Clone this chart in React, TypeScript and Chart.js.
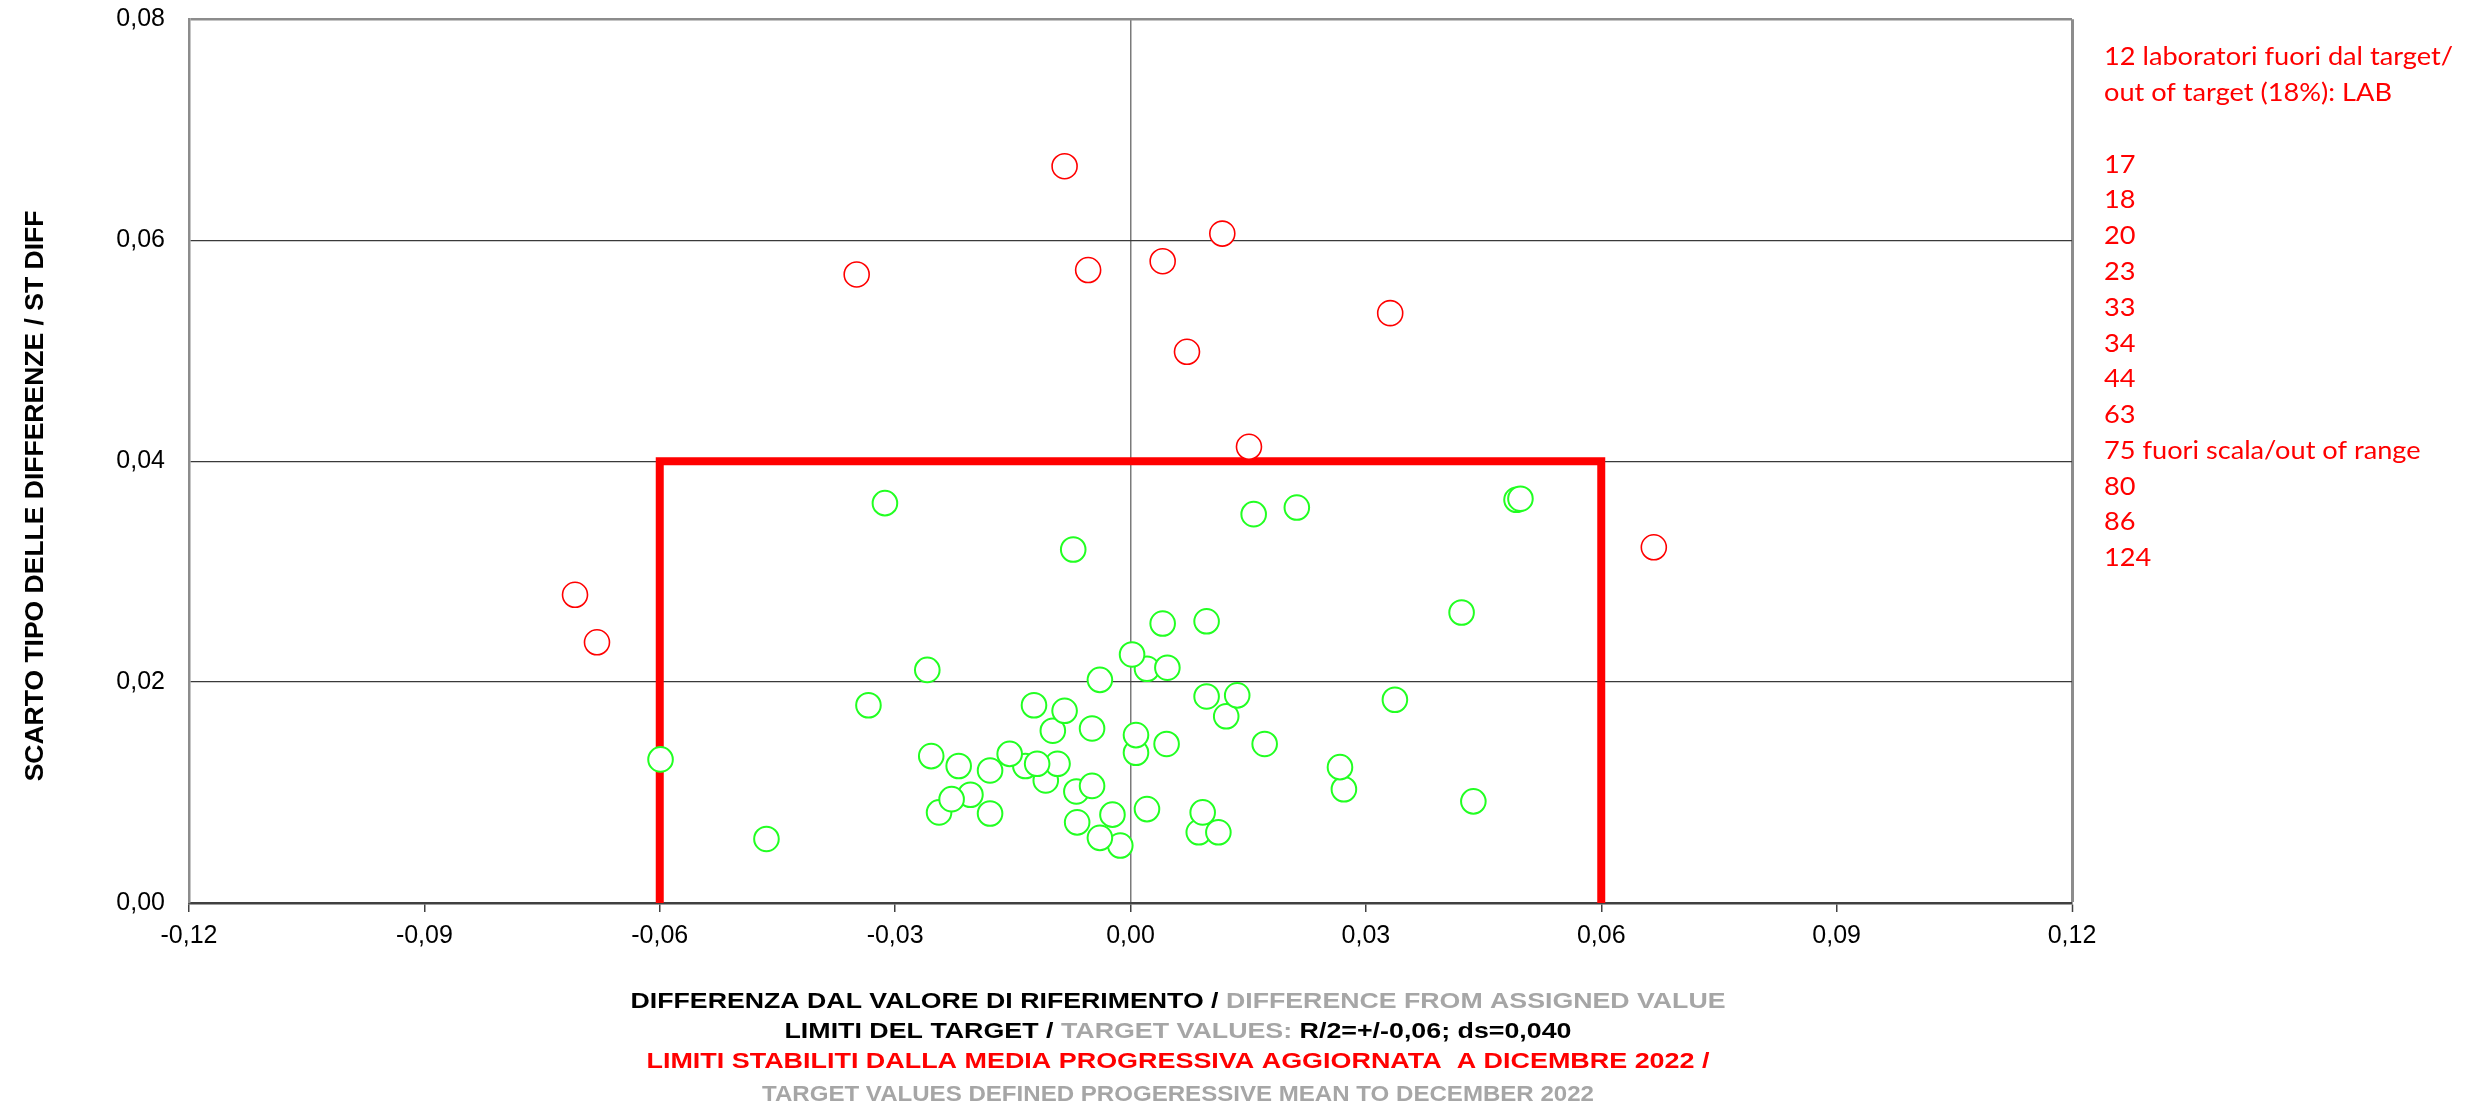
import React, { useEffect, useRef } from 'react';
import { Chart, registerables } from 'chart.js';

Chart.register(...registerables);

// ---------- data ----------
const greenX = [
  -0.0313, -0.0073, 0.0157, 0.0212, 0.0492, 0.0497, 0.0422, 0.0041, 0.0097, 0.0021,
  0.0047, 0.0002, -0.0259, -0.0039, 0.0122, 0.0097, 0.0136, 0.0337, -0.0334, -0.0599,
  -0.0464, -0.0099, -0.0123, -0.0084, -0.0049, 0.0007, 0.0007, 0.0046, 0.0171, 0.0272,
  0.0267, -0.0254, -0.0219, -0.0179, -0.0134, -0.0154, -0.0108, -0.0093, -0.0119, -0.0069,
  -0.0049, -0.0244, -0.0204, -0.0228, -0.0179, -0.0068, -0.0023, 0.0021, -0.0013, -0.0039,
  0.0087, 0.0112, 0.0092, 0.0437,
];
const greenY = [
  0.0362, 0.0320, 0.0352, 0.0358, 0.0365, 0.0366, 0.0263, 0.0253, 0.0255, 0.0212,
  0.0213, 0.0225, 0.0211, 0.0202, 0.0169, 0.0187, 0.0188, 0.0184, 0.0179, 0.0130,
  0.0058, 0.0156, 0.0179, 0.0174, 0.0158, 0.0136, 0.0152, 0.0144, 0.0144, 0.0103,
  0.0123, 0.0133, 0.0124, 0.0120, 0.0124, 0.0135, 0.0111, 0.0126, 0.0126, 0.0101,
  0.0106, 0.0082, 0.0098, 0.0094, 0.0081, 0.0073, 0.0080, 0.0085, 0.0052, 0.0059,
  0.0064, 0.0064, 0.0082, 0.0092,
];
const redX = [-0.0084, 0.0117, -0.0349, -0.0054, 0.0041, 0.0331, 0.0072, 0.0151, 0.0667, -0.0708, -0.0680];
const redY = [0.0667, 0.0606, 0.0569, 0.0573, 0.0581, 0.0534, 0.0499, 0.0413, 0.0322, 0.0279, 0.0236];

const targetX = [-0.06, -0.06, 0.06, 0.06];
const targetY = [0, 0.04, 0.04, 0];

const xTickValues = [-0.12, -0.09, -0.06, -0.03, 0, 0.03, 0.06, 0.09, 0.12];
const yTickValues = [0, 0.02, 0.04, 0.06, 0.08];

const yAxisTitle = 'SCARTO TIPO DELLE DIFFERENZE / ST DIFF';
const xTitle1a = 'DIFFERENZA DAL VALORE DI RIFERIMENTO / ';
const xTitle1b = 'DIFFERENCE FROM ASSIGNED VALUE';
const xTitle2a = 'LIMITI DEL TARGET / ';
const xTitle2b = 'TARGET VALUES: ';
const xTitle2c = 'R/2=+/-0,06; ds=0,040';
const xTitle3 = 'LIMITI STABILITI DALLA MEDIA PROGRESSIVA AGGIORNATA  A DICEMBRE 2022 /';
const xTitle4 = 'TARGET VALUES DEFINED PROGERESSIVE MEAN TO DECEMBER 2022';

const noteLines = [
  '12 laboratori fuori dal target/',
  'out of target (18%): LAB',
  '',
  '17', '18', '20', '23', '33', '34', '44', '63',
  '75 fuori scala/out of range',
  '80', '86', '124',
];

// ---------- styles ----------
const GREEN = '#22FF22';
const RED = '#FF0000';
const GRAY_TEXT = '#A6A6A6';
const FONT = '"Liberation Sans", Arial, Helvetica, sans-serif';

const fmt = (v: number) => {
  const s = Math.abs(v).toFixed(2).replace('.', ',');
  return v < -1e-9 ? '-' + s : s;
};

const textPlugin = {
  id: 'customText',
  afterDraw(chart: any) {
    const ctx = chart.ctx as CanvasRenderingContext2D;
    const area = chart.chartArea;

    // Y axis title (rotated)
    ctx.save();
    ctx.font = `bold 26.5px ${FONT}`;
    ctx.fillStyle = '#000';
    ctx.textAlign = 'center';
    ctx.textBaseline = 'alphabetic';
    ctx.translate(42.5, 496);
    ctx.rotate(-Math.PI / 2);
    ctx.fillText(yAxisTitle, 0, 0);
    ctx.restore();

    // bottom title lines
    const cx = 1178;
    const drawRuns = (runs: { t: string; c: string }[], baseline: number, targetW: number) => {
      ctx.save();
      ctx.font = `bold 22px ${FONT}`;
      ctx.textAlign = 'left';
      ctx.textBaseline = 'alphabetic';
      const widths = runs.map((r) => ctx.measureText(r.t).width);
      const total = widths.reduce((a, b) => a + b, 0);
      const sx = targetW / total;
      ctx.translate(cx - targetW / 2, baseline);
      ctx.scale(sx, 1);
      let x = 0;
      runs.forEach((r, i) => {
        ctx.fillStyle = r.c;
        ctx.fillText(r.t, x, 0);
        x += widths[i];
      });
      ctx.restore();
    };
    drawRuns([{ t: xTitle1a, c: '#000' }, { t: xTitle1b, c: GRAY_TEXT }], 1007.5, 1095);
    drawRuns(
      [{ t: xTitle2a, c: '#000' }, { t: xTitle2b, c: GRAY_TEXT }, { t: xTitle2c, c: '#000' }],
      1037.5,
      787
    );
    drawRuns([{ t: xTitle3, c: RED }], 1068, 1063);
    drawRuns([{ t: xTitle4, c: GRAY_TEXT }], 1100.5, 832);

    // right-hand notes
    ctx.save();
    ctx.font = '25px Lato, "Open Sans", sans-serif';
    ctx.fillStyle = RED;
    ctx.textAlign = 'left';
    ctx.textBaseline = 'alphabetic';
    const w0 = ctx.measureText(noteLines[0]).width;
    const sx = 349 / w0;
    const left = area.right + 32;
    noteLines.forEach((line, i) => {
      if (!line) return;
      ctx.save();
      ctx.translate(left, 65.4 + i * 35.77);
      ctx.scale(sx, 1);
      ctx.fillText(line, 0, 0);
      ctx.restore();
    });
    ctx.restore();
  },
};

export default function App() {
  const canvasRef = useRef<HTMLCanvasElement | null>(null);

  useEffect(() => {
    const canvas = canvasRef.current;
    if (!canvas) return;

    const greenData = greenX.map((x, i) => ({ x, y: greenY[i] }));
    const redData = redX.map((x, i) => ({ x, y: redY[i] }));
    const targetData = targetX.map((x, i) => ({ x, y: targetY[i] }));

    const chart = new Chart(canvas, {
      type: 'scatter',
      data: {
        datasets: [
          {
            label: 'in target',
            data: greenData,
            order: 1,
            pointStyle: 'circle',
            pointRadius: 12.3,
            pointBorderWidth: 2,
            borderColor: GREEN,
            backgroundColor: '#ffffff',
            pointBackgroundColor: '#ffffff',
            pointBorderColor: GREEN,
            showLine: false,
          } as any,
          {
            label: 'out of target',
            data: redData,
            order: 2,
            pointStyle: 'circle',
            pointRadius: 12.5,
            pointBorderWidth: 1.6,
            borderColor: RED,
            backgroundColor: '#ffffff',
            pointBackgroundColor: '#ffffff',
            pointBorderColor: RED,
            showLine: false,
          } as any,
          {
            type: 'line',
            label: 'target',
            data: targetData,
            order: 3,
            showLine: true,
            borderColor: RED,
            borderWidth: 8,
            borderCapStyle: 'round',
            borderJoinStyle: 'miter',
            pointRadius: 0,
            fill: false,
            tension: 0,
          } as any,
        ],
      },
      options: {
        responsive: false,
        animation: false,
        events: [],
        layout: { padding: { left: 0, top: 19.3, right: 418, bottom: 0 } },
        plugins: {
          legend: { display: false },
          tooltip: { enabled: false },
          title: { display: false },
        },
        scales: {
          x: {
            type: 'linear',
            min: -0.12,
            max: 0.12,
            afterBuildTicks: (scale: any) => {
              scale.ticks = xTickValues.map((v) => ({ value: v }));
            },
            afterFit: (scale: any) => {
              scale.height = 207;
            },
            ticks: {
              autoSkip: false,
              maxRotation: 0,
              minRotation: 0,
              padding: 9,
              color: '#000',
              font: { family: FONT, size: 25 },
              callback: (v: any) => fmt(Number(v)),
            },
            grid: {
              drawOnChartArea: true,
              drawTicks: true,
              tickLength: 9,
              tickColor: '#404040',
              tickWidth: 1.5,
              color: (c: any) => {
                const v = c.tick ? c.tick.value : NaN;
                if (Math.abs(v) < 1e-9) return '#7a7a7a';
                if (Math.abs(v - 0.12) < 1e-9) return '#8c8c8c';
                return 'rgba(0,0,0,0)';
              },
              lineWidth: (c: any) => {
                const v = c.tick ? c.tick.value : NaN;
                if (Math.abs(v - 0.12) < 1e-9) return 3;
                return 1.5;
              },
            },
            border: { display: true, color: '#404040', width: 2.5 },
          },
          y: {
            type: 'linear',
            min: 0,
            max: 0.08,
            afterBuildTicks: (scale: any) => {
              scale.ticks = yTickValues.map((v) => ({ value: v }));
            },
            afterFit: (scale: any) => {
              scale.width = 189;
            },
            ticks: {
              padding: 0,
              color: '#000',
              font: { family: FONT, size: 25 },
              callback: (v: any) => fmt(Number(v)),
            },
            grid: {
              drawTicks: true,
              tickLength: 24,
              tickColor: 'rgba(0,0,0,0)',
              color: (c: any) => {
                const v = c.tick ? c.tick.value : NaN;
                if (Math.abs(v) < 1e-9) return 'rgba(0,0,0,0)';
                if (Math.abs(v - 0.08) < 1e-9) return '#8c8c8c';
                return '#3a3a3a';
              },
              lineWidth: (c: any) => {
                const v = c.tick ? c.tick.value : NaN;
                if (Math.abs(v - 0.08) < 1e-9) return 2.5;
                return 1.3;
              },
            },
            border: { display: true, color: '#8c8c8c', width: 2.5 },
          },
        },
      } as any,
      plugins: [textPlugin],
    });

    return () => {
      chart.destroy();
    };
  }, []);

  return (
    <div
      style={{
        position: 'absolute',
        left: 0,
        top: 0,
        width: 2490,
        height: 1110,
        background: '#ffffff',
      }}
    >
      <canvas ref={canvasRef} width={2490} height={1110} style={{ display: 'block', width: 2490, height: 1110 }} />
    </div>
  );
}
